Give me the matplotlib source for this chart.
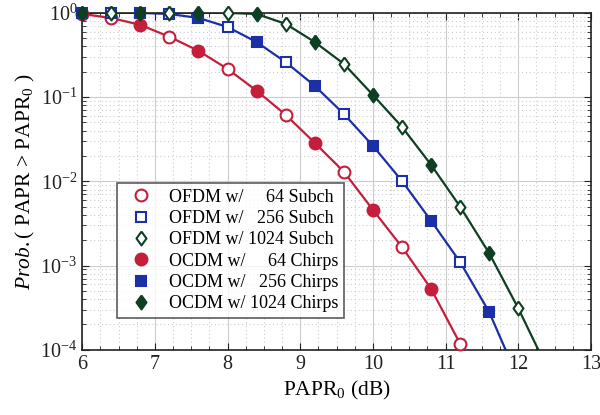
import numpy as np
import matplotlib
matplotlib.use('Agg')
import matplotlib.pyplot as plt
from matplotlib.ticker import LogLocator, MultipleLocator, NullFormatter

plt.rcParams['font.family'] = ['Liberation Serif', 'DejaVu Serif']
plt.rcParams['mathtext.fontset'] = 'custom'
plt.rcParams['mathtext.rm'] = 'Liberation Serif'
plt.rcParams['mathtext.it'] = 'Liberation Serif:italic'

# PAPR thresholds (dB) where markers sit
x_ofdm = [6.4, 7.2, 8.0, 8.8, 9.6, 10.4, 11.2, 12.0]
x_ocdm = [6.0, 6.8, 7.6, 8.4, 9.2, 10.0, 10.8, 11.6, 12.4]

# CCDF values (last entries fall below the axis)
ofdm_64 = [0.87, 0.52, 0.216, 0.0616, 0.013, 0.00166, 1.18e-4, 6e-6]
ofdm_256 = [1.0, 0.97, 0.68, 0.26, 0.063, 0.0101, 0.0011, 4.5e-5]
ofdm_1024 = [1.0, 1.0, 1.0, 0.74, 0.248, 0.0443, 0.005, 3.1e-4]
ocdm_64 = [0.97, 0.72, 0.354, 0.119, 0.0286, 0.00459, 5.3e-4, 3e-5, np.nan]
ocdm_256 = [1.0, 1.0, 0.87, 0.45, 0.136, 0.0264, 0.0034, 2.8e-4, np.nan]
ocdm_1024 = [1.0, 1.0, 1.0, 0.97, 0.45, 0.106, 0.0157, 0.0014, 6e-5]

labels = ['OFDM w/     64 Subch', 'OFDM w/   256 Subch', 'OFDM w/ 1024 Subch',
          'OCDM w/     64 Chirps', 'OCDM w/   256 Chirps', 'OCDM w/ 1024 Chirps']

red = '#C41E3A'
blue = '#1B2FA6'
green = '#0E3F22'
diamond = [(0, 1), (0.72, 0), (0, -1), (-0.72, 0), (0, 1)]

fig = plt.figure(figsize=(6, 4.15), dpi=100)
ax = fig.add_axes([0.137, 0.157, 0.848, 0.812])

groups = [
    (ofdm_64, ocdm_64, red, 'o', 8.5),
    (ofdm_256, ocdm_256, blue, 's', 7),
    (ofdm_1024, ocdm_1024, green, diamond, 10),
]


def visible(xs, ys):
    pts = [(x, y) for x, y in zip(xs, ys) if not np.isnan(y) and y >= 1e-4]
    return [p[0] for p in pts], [p[1] for p in pts]


# one curve per size, through both sets of points
for ofdm, ocdm, c, m, ms in groups:
    xs = np.array(x_ofdm + x_ocdm)
    ys = np.array(ofdm + ocdm)
    keep = ~np.isnan(ys)
    xs, ys = xs[keep], ys[keep]
    order = np.argsort(xs)
    ax.plot(xs[order], ys[order], color=c, lw=1.6, zorder=2)

handles = []
for i, (ofdm, ocdm, c, m, ms) in enumerate(groups):
    xs, ys = visible(x_ofdm, ofdm)
    h, = ax.plot(xs, ys, ls='none', marker=m, ms=ms, mfc='white', mec=c,
                 mew=1.5, label=labels[i], zorder=3, clip_on=False)
    handles.append(h)
for i, (ofdm, ocdm, c, m, ms) in enumerate(groups):
    xs, ys = visible(x_ocdm, ocdm)
    h, = ax.plot(xs, ys, ls='none', marker=m, ms=ms, mfc=c, mec=c,
                 mew=1.5, label=labels[i + 3], zorder=3, clip_on=False)
    handles.append(h)

ax.set_yscale('log')
ax.set_xlim(6, 13)
ax.set_ylim(1e-4, 1.0)
ax.xaxis.set_major_locator(MultipleLocator(1))
ax.xaxis.set_minor_locator(MultipleLocator(0.25))
ax.yaxis.set_major_locator(LogLocator(base=10, numticks=10))
ax.yaxis.set_minor_locator(LogLocator(base=10, subs=np.arange(2, 10), numticks=20))
ax.yaxis.set_minor_formatter(NullFormatter())

ax.grid(True, which='major', color='#cccccc', lw=0.8, ls='-')
ax.grid(True, which='minor', color='#cccccc', lw=0.8, ls=(0, (1, 2.5)))
ax.set_axisbelow(True)

ax.tick_params(which='both', direction='in', top=True, right=True,
               labelsize=14.5, colors='#222222')
ax.tick_params(which='major', length=5)
ax.tick_params(which='minor', length=3)
for s in ax.spines.values():
    s.set_linewidth(1.2)
    s.set_color('#222222')

ax.set_xlabel('PAPR$_0$ (dB)', fontsize=15.5, labelpad=4)
ax.set_ylabel('$\\mathit{Prob.}$( PAPR > PAPR$_0$ )', fontsize=15.5, labelpad=2)

leg = ax.legend(handles=handles, loc='lower left', bbox_to_anchor=(0.069, 0.095),
                borderaxespad=0, fontsize=13, frameon=True, fancybox=False,
                edgecolor='#333333', labelspacing=0.24, handletextpad=0.55,
                borderpad=0.3, handlelength=2.0)
leg.get_frame().set_linewidth(1.2)

fig.savefig('out.png', dpi=100)
